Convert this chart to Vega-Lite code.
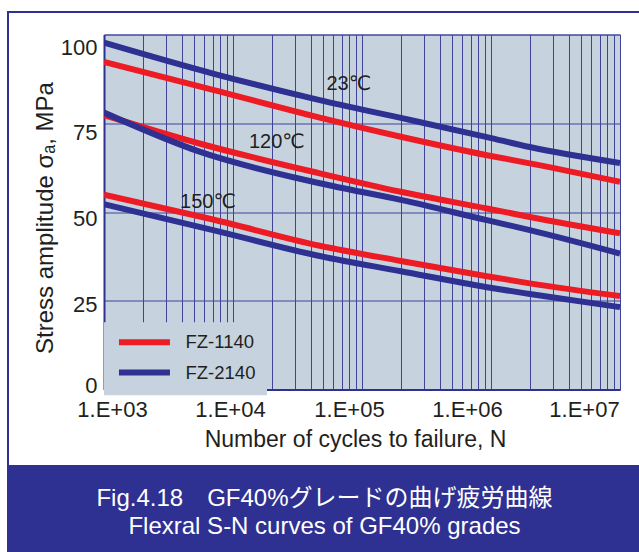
{
  "$schema": "https://vega.github.io/schema/vega-lite/v6.json",
  "background": "white",
  "padding": {"left": 7, "top": 11, "right": -78, "bottom": -2},
  "config": {"font": "Liberation Sans"},
  "datasets": {
    "curves": [
      {"grade": "FZ-1140", "temp": "23", "N": 1000, "stress": 92.3},
      {"grade": "FZ-1140", "temp": "23", "N": 7000, "stress": 84.4},
      {"grade": "FZ-1140", "temp": "23", "N": 47000, "stress": 76.6},
      {"grade": "FZ-1140", "temp": "23", "N": 200000, "stress": 71.2},
      {"grade": "FZ-1140", "temp": "23", "N": 930000, "stress": 66.0},
      {"grade": "FZ-1140", "temp": "23", "N": 2000000, "stress": 63.7},
      {"grade": "FZ-1140", "temp": "23", "N": 10000000, "stress": 58.5},
      {"grade": "FZ-2140", "temp": "23", "N": 1000, "stress": 97.7},
      {"grade": "FZ-2140", "temp": "23", "N": 7000, "stress": 89.0},
      {"grade": "FZ-2140", "temp": "23", "N": 47000, "stress": 81.5},
      {"grade": "FZ-2140", "temp": "23", "N": 200000, "stress": 76.5},
      {"grade": "FZ-2140", "temp": "23", "N": 930000, "stress": 71.1},
      {"grade": "FZ-2140", "temp": "23", "N": 2000000, "stress": 68.3},
      {"grade": "FZ-2140", "temp": "23", "N": 10000000, "stress": 63.8},
      {"grade": "FZ-1140", "temp": "120", "N": 1000, "stress": 77.3},
      {"grade": "FZ-1140", "temp": "120", "N": 5500, "stress": 69.3},
      {"grade": "FZ-1140", "temp": "120", "N": 47000, "stress": 60.9},
      {"grade": "FZ-1140", "temp": "120", "N": 200000, "stress": 55.7},
      {"grade": "FZ-1140", "temp": "120", "N": 930000, "stress": 51.0},
      {"grade": "FZ-1140", "temp": "120", "N": 2000000, "stress": 48.6},
      {"grade": "FZ-1140", "temp": "120", "N": 10000000, "stress": 44.0},
      {"grade": "FZ-2140", "temp": "120", "N": 1000, "stress": 78.0},
      {"grade": "FZ-2140", "temp": "120", "N": 5500, "stress": 67.0},
      {"grade": "FZ-2140", "temp": "120", "N": 47000, "stress": 58.1},
      {"grade": "FZ-2140", "temp": "120", "N": 200000, "stress": 53.4},
      {"grade": "FZ-2140", "temp": "120", "N": 930000, "stress": 47.7},
      {"grade": "FZ-2140", "temp": "120", "N": 2000000, "stress": 44.9},
      {"grade": "FZ-2140", "temp": "120", "N": 10000000, "stress": 38.3},
      {"grade": "FZ-1140", "temp": "150", "N": 1000, "stress": 54.9},
      {"grade": "FZ-1140", "temp": "150", "N": 7000, "stress": 47.9},
      {"grade": "FZ-1140", "temp": "150", "N": 47000, "stress": 40.5},
      {"grade": "FZ-1140", "temp": "150", "N": 200000, "stress": 36.2},
      {"grade": "FZ-1140", "temp": "150", "N": 930000, "stress": 31.9},
      {"grade": "FZ-1140", "temp": "150", "N": 2000000, "stress": 29.9},
      {"grade": "FZ-1140", "temp": "150", "N": 10000000, "stress": 26.3},
      {"grade": "FZ-2140", "temp": "150", "N": 1000, "stress": 52.2},
      {"grade": "FZ-2140", "temp": "150", "N": 7000, "stress": 44.9},
      {"grade": "FZ-2140", "temp": "150", "N": 47000, "stress": 37.6},
      {"grade": "FZ-2140", "temp": "150", "N": 200000, "stress": 33.3},
      {"grade": "FZ-2140", "temp": "150", "N": 930000, "stress": 28.8},
      {"grade": "FZ-2140", "temp": "150", "N": 2000000, "stress": 26.9},
      {"grade": "FZ-2140", "temp": "150", "N": 10000000, "stress": 23.2}
    ],
    "labels": [
      {"N": 79000, "stress": 86.0, "label": "23℃"},
      {"N": 21900, "stress": 69.6, "label": "120℃"},
      {"N": 6400, "stress": 52.9, "label": "150℃"}
    ]
  },
  "columns": 1,
  "bounds": "flush",
  "center": true,
  "align": {"row": "none", "column": "all"},
  "spacing": {"row": -518.5, "column": 0},
  "resolve": {"scale": {"color": "independent"}, "legend": {"color": "independent"}},
  "concat": [
    {
      "width": 708,
      "height": 541,
      "data": {"values": []},
      "mark": "point",
      "view": {
        "stroke": "#2e3192",
        "strokeWidth": 2,
        "fill": {
          "gradient": "linear",
          "x1": 0, "y1": 0, "x2": 0, "y2": 1,
          "stops": [
            {"offset": 0, "color": "#ffffff"},
            {"offset": 0.8373, "color": "#ffffff"},
            {"offset": 0.8373, "color": "#2e3192"},
            {"offset": 1, "color": "#2e3192"}
          ]
        }
      },
      "title": {
        "text": ["Fig.4.18　GF40%グレードの曲げ疲労曲線", "Flexral S-N curves of GF40% grades"],
        "orient": "bottom",
        "frame": "group",
        "anchor": "middle",
        "offset": -47.3,
        "dx": -37.5,
        "baseline": "alphabetic",
        "color": "#ffffff",
        "font": "Liberation Sans, Noto Sans CJK JP",
        "fontSize": 24,
        "fontWeight": "normal",
        "lineHeight": 28.3
      }
    },
    {
      "width": 516,
      "height": 355,
      "view": {"fill": "#c6d3df", "stroke": "#4f53a2", "strokeWidth": 1},
      "encoding": {
        "x": {
          "field": "N",
          "type": "quantitative",
          "scale": {"type": "log", "domain": [1000, 10000000]},
          "axis": {
            "values": [1000, 2000, 3000, 4000, 5000, 6000, 7000, 8000, 9000, 10000, 20000, 30000, 40000, 50000, 60000, 70000, 80000, 90000, 100000, 200000, 300000, 400000, 500000, 600000, 700000, 800000, 900000, 1000000, 2000000, 3000000, 4000000, 5000000, 6000000, 7000000, 8000000, 9000000, 10000000],
            "labelExpr": "indexof([1000, 10000, 100000, 1000000, 10000000], datum.value) >= 0 ? '1.E+0' + round(log(datum.value) / LN10) : ''",
            "labelOffset": {
              "condition": [
                {"test": "datum.value == 1000", "value": 8},
                {"test": "datum.value == 10000", "value": -3},
                {"test": "datum.value == 100000", "value": -13},
                {"test": "datum.value == 1000000", "value": -24},
                {"test": "datum.value == 10000000", "value": -36}
              ],
              "value": 0
            },
            "labelFontSize": 22,
            "labelColor": "#231f20",
            "labelPadding": 9.5,
            "labelOverlap": false,
            "labelFlush": false,
            "labelBound": false,
            "ticks": false,
            "domain": true,
            "domainColor": "#2e3192",
            "domainWidth": 2,
            "grid": true,
            "gridColor": "#3e4299",
            "gridWidth": 1,
            "title": "Number of cycles to failure, N",
            "titleFontSize": 23,
            "titleFontWeight": "normal",
            "titleColor": "#231f20",
            "titlePadding": 8,
            "titleX": 251
          }
        },
        "y": {
          "field": "stress",
          "type": "quantitative",
          "scale": {"domain": [0, 100]},
          "axis": {
            "values": [0, 25, 50, 75, 100],
            "labelOffset": {
              "condition": [
                {"test": "datum.value == 100", "value": 13.4},
                {"test": "datum.value == 75", "value": 9.2},
                {"test": "datum.value == 50", "value": 6},
                {"test": "datum.value == 25", "value": 3.9},
                {"test": "datum.value == 0", "value": -4}
              ],
              "value": 0
            },
            "labelFontSize": 22,
            "labelColor": "#231f20",
            "labelPadding": 7,
            "labelOverlap": false,
            "labelFlush": false,
            "labelBound": false,
            "ticks": false,
            "domain": true,
            "domainColor": "#2e3192",
            "domainWidth": 2,
            "grid": true,
            "gridColor": "#3e4299",
            "gridWidth": 1,
            "title": "Stress amplitude σₐ, MPa",
            "titleFontSize": 24,
            "titleFontWeight": "normal",
            "titleColor": "#231f20",
            "titlePadding": 3,
            "titleY": 183
          }
        }
      },
      "layer": [
        {
          "data": {"name": "curves"},
          "transform": [{"filter": "datum.grade == 'FZ-1140'"}],
          "mark": {"type": "line", "strokeWidth": 6, "interpolate": "monotone", "clip": true},
          "encoding": {
            "color": {
              "field": "grade",
              "type": "nominal",
              "scale": {"domain": ["FZ-1140", "FZ-2140"], "range": ["#ed1c24", "#2e3192"]},
              "legend": {
                "orient": "none",
                "legendX": 0,
                "legendY": 287.85,
                "direction": "vertical",
                "title": null,
                "fillColor": "#c6d3df",
                "padding": 10.7,
                "symbolType": "M-1,0H9.2",
                "symbolSize": 100,
                "symbolStrokeWidth": 6,
                "labelFontSize": 18.5,
                "labelColor": "#231f20",
                "labelOffset": 52.3,
                "rowPadding": 5.2
              }
            },
            "detail": {"field": "temp"}
          }
        },
        {
          "data": {"name": "curves"},
          "transform": [{"filter": "datum.grade == 'FZ-2140'"}],
          "mark": {"type": "line", "strokeWidth": 6, "interpolate": "monotone", "clip": true},
          "encoding": {
            "color": {
              "field": "grade",
              "type": "nominal",
              "scale": {"domain": ["FZ-1140", "FZ-2140"], "range": ["#ed1c24", "#2e3192"]},
              "legend": {
                "orient": "none",
                "legendX": 0,
                "legendY": 287.85,
                "direction": "vertical",
                "title": null,
                "fillColor": "#c6d3df",
                "padding": 10.7,
                "symbolType": "M-1,0H9.2",
                "symbolSize": 100,
                "symbolStrokeWidth": 6,
                "labelFontSize": 18.5,
                "labelColor": "#231f20",
                "labelOffset": 52.3,
                "rowPadding": 5.2
              }
            },
            "detail": {"field": "temp"}
          }
        },
        {
          "data": {"name": "labels"},
          "mark": {"type": "text", "fontSize": 20, "color": "#231f20", "font": "Liberation Sans, DejaVu Sans", "align": "center", "baseline": "middle"},
          "encoding": {"text": {"field": "label"}}
        }
      ]
    }
  ]
}
